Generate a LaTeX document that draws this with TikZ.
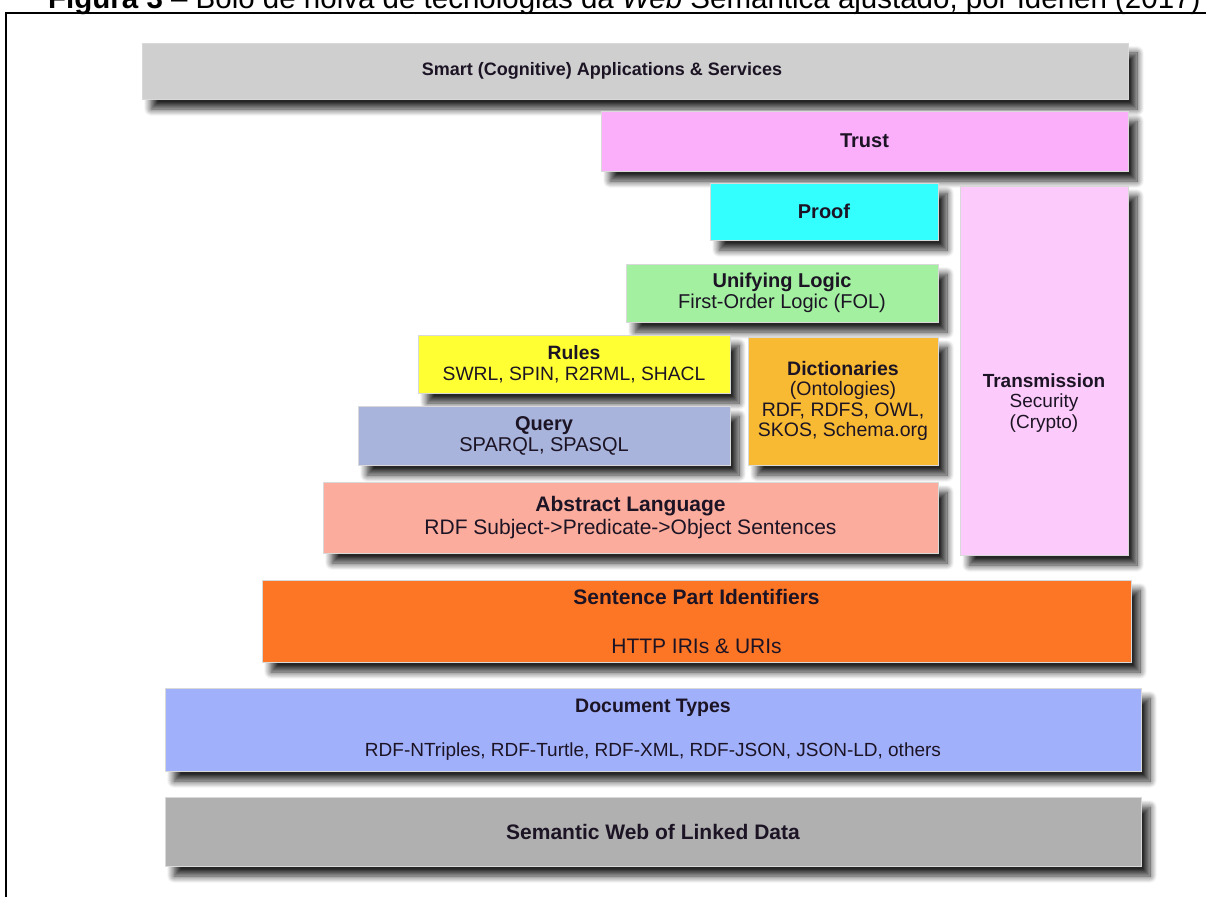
\documentclass[tikz,border=0pt]{standalone}
\usepackage{fontspec}
\setmainfont{Liberation Sans}
\usetikzlibrary{shadows.blur}

\definecolor{smartgray}{HTML}{CFCFCF}
\definecolor{trustpink}{HTML}{FBAEFA}
\definecolor{proofcyan}{HTML}{33FFFF}
\definecolor{transpink}{HTML}{FCCBFB}
\definecolor{logicgreen}{HTML}{A2F0A0}
\definecolor{rulesyellow}{HTML}{FFFF33}
\definecolor{dictorange}{HTML}{F8BA33}
\definecolor{queryblue}{HTML}{A8B4DC}
\definecolor{abstractsalmon}{HTML}{FBAC9C}
\definecolor{idorange}{HTML}{FD7626}
\definecolor{docblue}{HTML}{A1B0FA}
\definecolor{webgray}{HTML}{B0B0B0}
\definecolor{labelink}{HTML}{1C1424}

\tikzset{
  layer/.style={draw=white!85!black, line width=0.8pt, inner sep=0pt, align=center,
    text=labelink, font=\fontsize{20}{21}\selectfont,
    blur shadow={shadow xshift=9pt, shadow yshift=-10pt, shadow blur radius=7pt,
      shadow blur steps=10, shadow opacity=85}},
}

\begin{document}
\begin{tikzpicture}[x=1pt, y=-1pt]
\useasboundingbox (0,0) rectangle (1206,896);
\clip (0,0) rectangle (1206,896);

% caption and frame
\node[anchor=base west, inner sep=0pt, font=\fontsize{29.5}{32}\selectfont] (caption) at (48,9)
  {\textbf{Figura 3} – Bolo de noiva de tecnologias da \textit{Web} Semântica ajustado, por Idehen (2017)};
\draw[line width=2pt] (6,900) -- (6,13) -- (1210,13);

% top of the cake
\node[layer, fill=smartgray, minimum width=986pt, minimum height=56pt, font=\fontsize{18}{19}\selectfont\bfseries]
  (smart) at (635,71) {\hspace*{-66pt}Smart (Cognitive) Applications \& Services};
\node[layer, fill=trustpink, minimum width=527pt, minimum height=60pt, font=\fontsize{20}{21}\selectfont\bfseries]
  (trust) at (864.5,141) {Trust};
\node[layer, fill=proofcyan, minimum width=228pt, minimum height=57pt, font=\fontsize{20}{21}\selectfont\bfseries]
  (proof) at (824,211.5) {Proof};
\node[layer, fill=transpink, minimum width=168pt, minimum height=369pt]
  (trans) at (1044,370.5) {};
\node[align=center, text=labelink, font=\fontsize{19}{20.5}\selectfont] (transtext) at (1044,403)
  {\textbf{Transmission}\\Security\\(Crypto)};

% middle layers
\node[layer, fill=logicgreen, minimum width=312pt, minimum height=58pt]
  (logic) at (782,293) {\textbf{Unifying Logic}\\First-Order Logic (FOL)};
\node[layer, fill=rulesyellow, minimum width=312pt, minimum height=58pt, font=\fontsize{19.3}{21}\selectfont]
  (rules) at (574,364) {\textbf{Rules}\\SWRL, SPIN, R2RML, SHACL};
\node[layer, fill=dictorange, minimum width=190pt, minimum height=128pt, font=\fontsize{19.5}{20.5}\selectfont]
  (dict) at (843,401) {\textbf{Dictionaries}\\(Ontologies)\\RDF, RDFS, OWL,\\SKOS, Schema.org};
\node[layer, fill=queryblue, minimum width=372pt, minimum height=59pt]
  (query) at (544,435.5) {\textbf{Query}\\SPARQL, SPASQL};
\node[layer, fill=abstractsalmon, minimum width=615pt, minimum height=71pt, font=\fontsize{21}{23}\selectfont]
  (abstract) at (630.5,517.5) {\textbf{Abstract Language}\\RDF Subject->Predicate->Object Sentences};

% base layers
\node[layer, fill=idorange, minimum width=869pt, minimum height=82pt, font=\fontsize{21}{22}\selectfont]
  (ids) at (696.5,621) {\textbf{Sentence Part Identifiers}\\[27pt]HTTP IRIs \& URIs};
\node[layer, fill=docblue, minimum width=976pt, minimum height=83pt, font=\fontsize{19.5}{21}\selectfont]
  (doctypes) at (653,729.5) {\textbf{Document Types}\\[23pt]{\fontsize{19}{21}\selectfont RDF-NTriples, RDF-Turtle, RDF-XML, RDF-JSON, JSON-LD, others}};
\node[layer, fill=webgray, minimum width=976pt, minimum height=69pt, font=\fontsize{21}{22}\selectfont\bfseries]
  (semweb) at (653,831.5) {Semantic Web of Linked Data};
\end{tikzpicture}
\end{document}
